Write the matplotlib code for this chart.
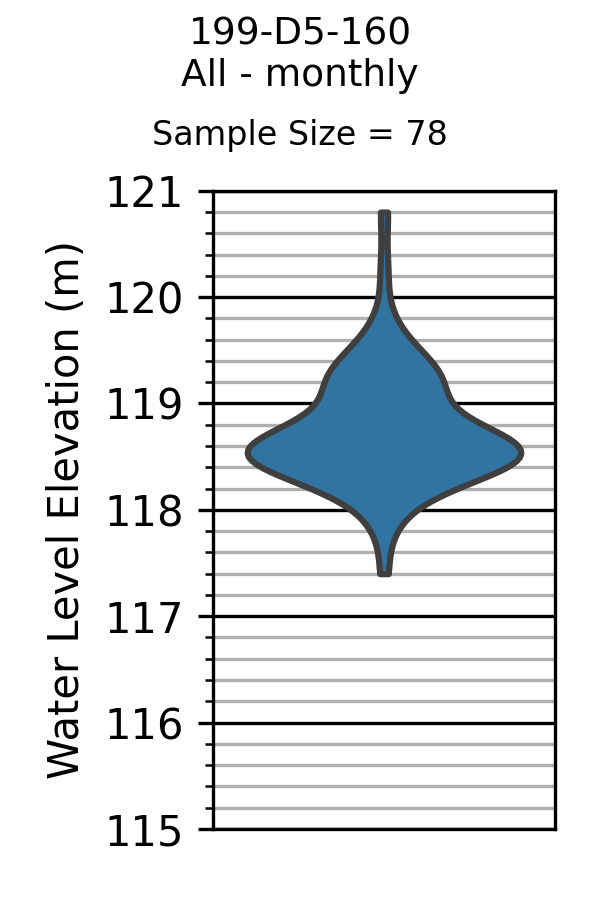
import numpy as np
import matplotlib
matplotlib.use('Agg')
import matplotlib.pyplot as plt
import seaborn as sns
from matplotlib.ticker import MultipleLocator

well_name = '199-D5-160'
period = 'All - monthly'

# monthly water levels (m)
levels = [
    117.40,
    117.80, 117.95,
    118.05, 118.10, 118.15,
    118.20, 118.25, 118.28, 118.30, 118.30,
    118.35, 118.35, 118.38, 118.40, 118.40, 118.40, 118.42, 118.45, 118.45, 118.45,
    118.48, 118.50, 118.50, 118.50, 118.50, 118.50, 118.52, 118.52,
    118.55, 118.55, 118.55, 118.55, 118.55, 118.58, 118.58, 118.58,
    118.60, 118.60, 118.60, 118.62, 118.62, 118.65, 118.65, 118.65,
    118.68, 118.70, 118.70, 118.70, 118.75,
    118.78, 118.80, 118.85,
    118.90, 118.95, 118.95, 119.00,
    119.05, 119.10, 119.10, 119.15,
    119.20, 119.20, 119.20, 119.25, 119.25, 119.30, 119.30, 119.30,
    119.35, 119.40, 119.45, 119.50,
    119.55, 119.65, 119.80,
    120.25, 120.80,
]

fig = plt.figure(figsize=(2, 3), dpi=300)
ax = fig.add_axes([0.355, 0.079, 0.570, 0.709])

sns.violinplot(y=levels, ax=ax, inner=None, cut=0, color='#1f77b4',
               saturation=0.75, linewidth=1.5)
for coll in ax.collections:
    coll.set_edgecolor('#3f3f3f')
    coll.set_linewidth(1.5)
    coll.set_joinstyle('round')

ax.set_xlim(-0.5, 0.5)
ax.set_ylim(115, 121)
ax.set_xticks([])
ax.set_xlabel('')
ax.yaxis.set_major_locator(MultipleLocator(1))
ax.yaxis.set_minor_locator(MultipleLocator(0.2))
ax.grid(which='major', axis='y', color='black', linewidth=0.8)
ax.grid(which='minor', axis='y', color='#b0b0b0', linewidth=0.8)
ax.set_axisbelow(True)
ax.tick_params(axis='y', labelsize=10)
ax.set_ylabel('Water Level Elevation (m)', fontsize=10)

fig.text(0.5, 0.939, well_name + '\n' + period, ha='center', va='center',
         fontsize=9, linespacing=1.2)
fig.text(0.5, 0.850, 'Sample Size = %d' % len(levels), ha='center',
         va='center', fontsize=8)

fig.savefig('out.png', dpi=300)
